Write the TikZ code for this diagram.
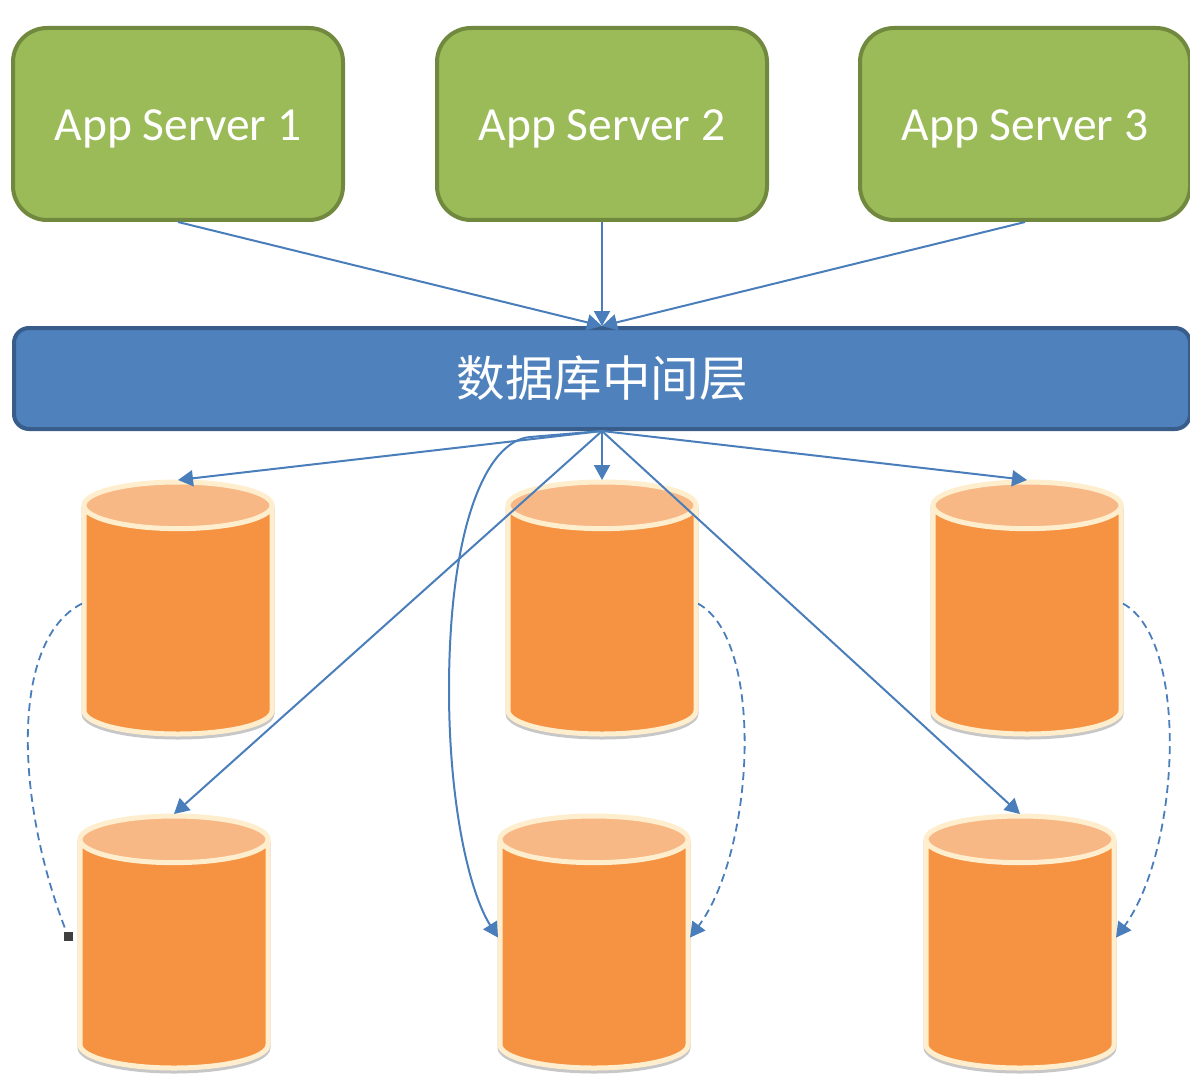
\documentclass[tikz,border=0pt]{standalone}
\usepackage{fontspec}
\setmainfont{Carlito}
\newfontfamily\cjkfont{Noto Sans CJK SC}
\usetikzlibrary{arrows.meta, shapes.geometric}
\definecolor{servergreen}{RGB}{155,187,89}
\definecolor{serverline}{RGB}{113,137,63}
\definecolor{barblue}{RGB}{79,129,189}
\definecolor{barline}{RGB}{56,93,138}
\definecolor{linkblue}{RGB}{74,126,187}
\definecolor{dborange}{RGB}{245,147,66}
\definecolor{dbtop}{RGB}{248,184,134}
\definecolor{dbrim}{RGB}{255,238,205}
\begin{document}
\begin{tikzpicture}[
        x=1pt, y=-1pt,
        line join=round,
        servernode/.style={shape=rectangle, rounded corners=34pt, fill=servergreen, draw=serverline, line width=4pt, text=white, minimum width=330pt, minimum height=192pt, text height=34pt, text depth=0pt, font=\fontsize{47.5}{56}\selectfont},
        barnode/.style={shape=rectangle, rounded corners=15pt, fill=barblue, draw=barline, line width=4pt, text=white, minimum width=1176pt, minimum height=101pt, font=\cjkfont\fontsize{48.5}{58}\selectfont},
        dbnode/.style={shape=cylinder, shape border rotate=90, aspect=7, cylinder uses custom fill, cylinder body fill=dborange, cylinder end fill=dbtop, draw=dbrim, line width=5pt, minimum width=188pt, minimum height=252pt, outer sep=2pt},
        dbshade/.style={dbnode, draw=black!22, cylinder body fill=white, cylinder end fill=white},
        link/.style={draw=linkblue, line width=2pt, -{Triangle[width=16pt, length=15pt]}},
        copylink/.style={link, line width=1.8pt, dash pattern=on 8pt off 5pt},
        enddot/.style={shape=rectangle, fill=black!75, minimum size=9pt, inner sep=0pt}
        ]
        \useasboundingbox (0, 0) rectangle (1190, 1075);

        %% Nodes
        \foreach \x/\n in {178/1, 602/2, 1025/3} {
            \node[servernode] (server\n) at (\x, 124) {App Server \n};
        }
        \node[barnode] (bar) at (602, 378.5) {数据库中间层};
        \foreach \x/\y/\n in {178/624/1, 602/624/2, 1027/624/3, 174/958/4, 594/958/5, 1020/958/6} {
            \node[dbshade] (shade\n) at (\x, \y+3) {};
            \node[dbnode] (db\n) at (\x, \y) {};
        }
        \node[enddot] (dot) at (68, 936) {};

        %% Draws
        \foreach \n in {1, 2, 3} {
            \draw[link] (server\n.south) -- (bar.north);
            \draw[link] (bar.south) -- (db\n.north);
        }
        \draw[link] (bar.south) -- (db4.north);
        \draw[link] (bar.south) -- (db6.north);
        \draw[link] (bar.south) -- (530, 437) .. controls (485, 441) and (449, 530) .. (449, 690) .. controls (449, 800) and (468, 890) .. (db5.168);

% Dashed ones
        \draw[copylink, -] (db1.168) .. controls (10, 640) and (15, 800) .. (dot);
        \draw[copylink] (db2.12) .. controls (765, 640) and (755, 850) .. (db5.12);
        \draw[copylink] (db3.12) .. controls (1190, 640) and (1180, 850) .. (db6.12);
\end{tikzpicture}
\end{document}
